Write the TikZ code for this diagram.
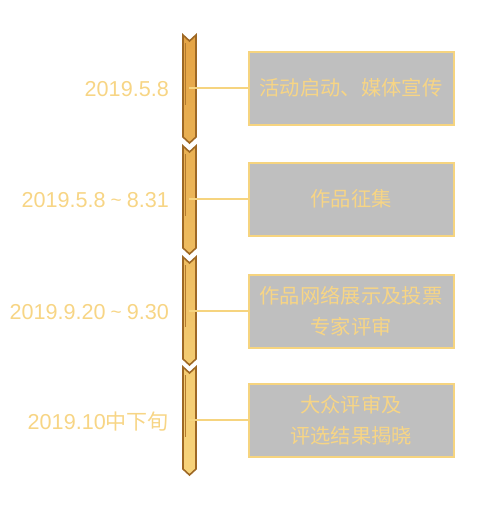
\documentclass[tikz,border=0pt]{standalone}
\usepackage{fontspec}
\setmainfont{Liberation Sans}
\newfontfamily\cjk{Noto Sans CJK SC}
\definecolor{txt}{HTML}{F7D585}
\definecolor{boxfill}{HTML}{BFBFBF}
\definecolor{boxline}{HTML}{F6D47F}
\definecolor{brd}{HTML}{9E6824}
\definecolor{cA}{HTML}{E5A445}
\definecolor{cB}{HTML}{E9B052}
\definecolor{cC}{HTML}{EEBC60}
\definecolor{cD}{HTML}{F1C56A}
\definecolor{cE}{HTML}{F4CC72}
\definecolor{cF}{HTML}{F7D37B}
\newcommand{\tld}{\makebox[21pt]{\fontsize{19}{19}\selectfont\raisebox{1.2pt}{\textasciitilde}}}
\begin{document}
\begin{tikzpicture}[x=1pt,y=-1pt,
  lbl/.style={anchor=east,text=txt,font=\fontsize{21.6}{24}\selectfont,inner sep=0pt},
  evbox/.style={draw=boxline,line width=2pt,fill=boxfill,minimum width=205pt,minimum height=73pt,
     text=txt,align=center,font=\cjk\fontsize{20.3}{30.5}\selectfont,inner sep=0pt},
  conn/.style={draw=boxline,line width=2pt},
  seg/.style={draw=brd,line width=1.6pt,line join=miter}
]
\useasboundingbox (0,0) rectangle (500,514);
% segments
\foreach \y/\ct/\cb [count=\i] in {35/cA/cB,146/cB/cC,257/cC/cE,367/cE/cF}{
  \path[seg,top color=\ct,bottom color=\cb]
    (183,\y) -- (189.5,\y+6) -- (196,\y) -- (196,\y+102) -- (189.5,\y+108) -- (183,\y+102) -- cycle;
  \draw[brd!70!cA,line width=1pt] (185,\y+8) -- (185,\y+70);
}
\coordinate (s1) at (189,88);
\coordinate (s2) at (189,199);
\coordinate (s3) at (189,311);
\coordinate (s4) at (189,420);
% boxes
\node[evbox] (b1) at (351,88) {活动启动、媒体宣传};
\node[evbox] (b2) at (351,199) {作品征集};
\node[evbox] (b3) at (351,311) {作品网络展示及投票\\专家评审};
\node[evbox] (b4) at (351,420) {大众评审及\\评选结果揭晓};
\draw[conn] (s1) -- (b1.west);
\draw[conn] (s2) -- (b2.west);
\draw[conn] (s3) -- (b3.west);
\draw[conn] (s4) -- (b4.west);
% labels
\node[lbl] (l1) at (169,89.5) {2019.5.8};
\node[lbl] (l2) at (169,200.5) {2019.5.8\tld8.31};
\node[lbl] (l3) at (169,312) {2019.9.20\tld9.30};
\node[lbl] (l4) at (169,422) {2019.10{\cjk\fontsize{21}{24}\selectfont 中下旬}};
\end{tikzpicture}
\end{document}
